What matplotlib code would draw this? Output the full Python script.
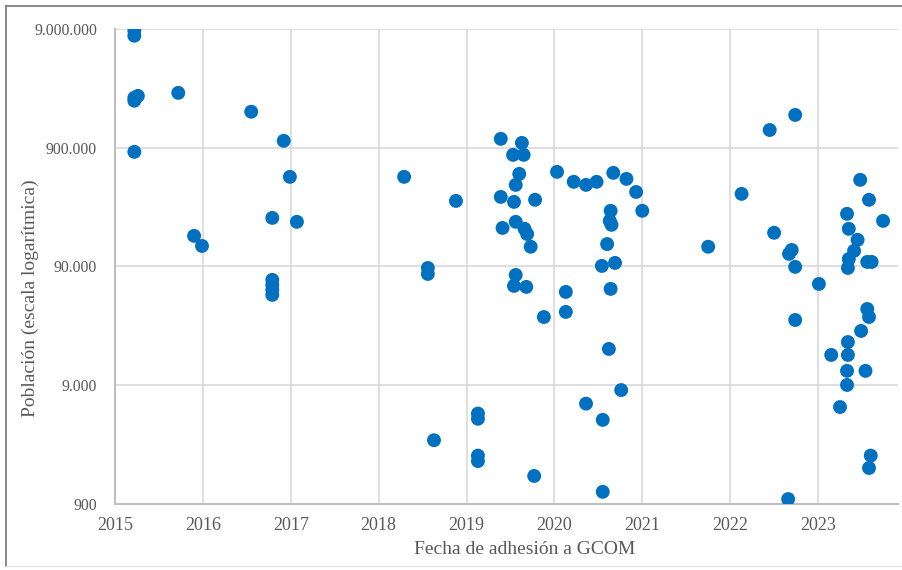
import matplotlib
matplotlib.use("Agg")
import matplotlib.pyplot as plt
from matplotlib.ticker import FixedLocator, FuncFormatter
from matplotlib.lines import Line2D

# Fecha de adhesión (año decimal) y población de cada municipio
fecha = [
    2015.22, 2015.22, 2015.22, 2015.22, 2015.26, 2015.72, 2016.55, 2016.92,
    2015.22, 2016.99, 2016.79, 2017.07, 2015.90, 2015.99,
    2016.79, 2016.79, 2016.79, 2016.79,
    2018.29, 2018.88, 2018.56, 2018.56,
    2019.39, 2019.63, 2019.53, 2019.65, 2019.60, 2019.56, 2020.03, 2019.39,
    2019.54, 2019.78, 2019.56, 2019.41, 2019.66, 2019.69, 2019.73, 2019.56,
    2019.54, 2019.68, 2019.88,
    2020.22, 2020.36, 2020.48, 2020.67, 2020.82, 2020.93, 2021.00, 2020.64,
    2020.63, 2020.65, 2020.60, 2020.54, 2020.69, 2020.64, 2020.13, 2020.13,
    2020.62, 2020.76, 2020.36, 2020.55,
    2019.13, 2019.13, 2018.63, 2019.13, 2019.13, 2019.77, 2020.55,
    2022.45, 2022.74, 2022.13, 2021.75, 2022.50, 2022.70, 2022.67, 2022.74,
    2023.01, 2023.48, 2023.58, 2023.74, 2023.33, 2023.35, 2023.45, 2023.41,
    2023.35, 2023.34, 2023.56, 2023.61, 2022.74, 2023.56, 2023.58, 2023.49,
    2023.34, 2023.15, 2023.34, 2023.33, 2023.54, 2023.33, 2023.25, 2023.60,
    2023.58, 2022.66,
]
poblacion = [
    8690000, 7900000, 2370000, 2240000, 2460000, 2610000, 1810000, 1030000,
    831000, 512000, 231000, 214000, 163000, 134000,
    69400, 63000, 57200, 51900,
    512000, 321000, 87500, 77900,
    1070000, 989000, 784000, 784000, 542000, 438000, 564000, 347000,
    315000, 328000, 214000, 190000, 187000, 169000, 132000, 76400,
    61800, 60600, 33800,
    465000, 438000, 465000, 553000, 492000, 382000, 265000, 265000,
    218000, 202000, 139000, 91000, 96500, 58300, 55000, 37300,
    18200, 8200, 6300, 4600,
    5200, 4700, 3100, 2300, 2070, 1550, 1140,
    1270000, 1700000, 368000, 132000, 173000, 124000, 115000, 89400,
    64200, 483000, 328000, 218000, 250000, 187000, 151000, 122000,
    104000, 87500, 98300, 98300, 31900, 39500, 33800, 25800,
    20800, 16200, 16200, 11900, 11900, 9050, 5900, 2300,
    1810, 990,
]

anios = [2015, 2016, 2017, 2018, 2019, 2020, 2021, 2022, 2023]
ticks_y = [900, 9000, 90000, 900000, 9000000]

gris_texto = "#595959"
serif = "Liberation Serif"

fig = plt.figure(figsize=(9.02, 5.70), dpi=100)
ax = fig.add_axes([115 / 902, 1 - 504 / 570, (898 - 115) / 902, (504 - 29) / 570])

ax.scatter(fecha, poblacion, s=100, color="#0070c0", edgecolors="none", zorder=3)

ax.set_yscale("log")
ax.set_ylim(900, 9000000)
ax.set_xlim(2015, 2023.91)
ax.yaxis.set_major_locator(FixedLocator(ticks_y))
ax.yaxis.set_minor_locator(FixedLocator([]))
ax.yaxis.set_major_formatter(FuncFormatter(lambda v, p: f"{int(round(v)):,}".replace(",", ".")))
ax.xaxis.set_major_locator(FixedLocator(anios))
ax.xaxis.set_major_formatter(FuncFormatter(lambda v, p: f"{int(round(v))}"))

ax.grid(True, color="#d9d9d9", linewidth=1.2, zorder=0)
ax.set_axisbelow(True)
for s in ["top", "right"]:
    ax.spines[s].set_visible(False)
for s in ["left", "bottom"]:
    ax.spines[s].set_color("#bfbfbf")
    ax.spines[s].set_linewidth(1.5)

ax.tick_params(axis="y", length=0, pad=13, labelsize=11.3, labelcolor=gris_texto)
ax.tick_params(axis="x", length=0, pad=9, labelsize=13, labelcolor=gris_texto)
for lab in ax.get_xticklabels() + ax.get_yticklabels():
    lab.set_family(serif)

ax.set_xlabel("Fecha de adhesión a GCOM", fontsize=14, color=gris_texto, family=serif)
ax.set_ylabel("Población (escala logarítmica)", fontsize=14, color=gris_texto, family=serif)
ax.xaxis.set_label_coords((525 - 115) / 783, -(550 - 504) / 475, transform=ax.transAxes)
ax.xaxis.label.set_va("center")
ax.yaxis.set_label_coords(-(115 - 30) / 783, (504 - 298) / 475, transform=ax.transAxes)
ax.yaxis.label.set_va("center")

# marco exterior
W, H = 902, 570
fig.add_artist(Line2D([6 / W, 1], [1 - 6 / H, 1 - 6 / H], color="#7f7f7f", lw=1.3))
fig.add_artist(Line2D([6 / W, 6 / W], [1 - 6 / H, 1 - 566 / H], color="#7f7f7f", lw=1.3))
fig.add_artist(Line2D([6 / W, 1], [1 - 566 / H, 1 - 566 / H], color="#e6e6e6", lw=1.0))

fig.savefig("out.png", dpi=100)
